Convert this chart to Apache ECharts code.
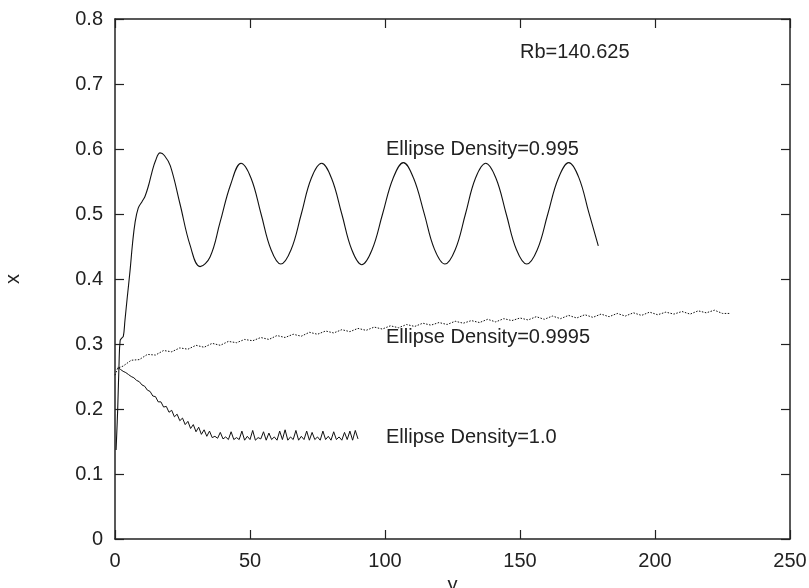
<!DOCTYPE html>
<html>
<head>
<meta charset="utf-8">
<script src="https://cdn.jsdelivr.net/npm/echarts@6/dist/echarts.min.js"></script>
<style>
html,body{margin:0;padding:0;background:#fff;}
#chart{width:809px;height:588px;}
</style>
</head>
<body>
<div id="chart"></div>
<script>
// Ellipse Density = 0.995 (solid)
const density0995 = [
  [0.4,0.137],[1.0,0.20],[1.5,0.27],[1.9,0.305],[2.5,0.309],[3.1,0.312],[3.7,0.337],
  [4.5,0.37],[5.6,0.414],[6.5,0.455],[7.4,0.486],[8.6,0.509],[10.0,0.519],[11.1,0.527],
  [12.5,0.545],[13.6,0.563],[15.0,0.582],[16.7,0.594],[18.3,0.590],[20.5,0.574],
  [24.1,0.515],[27.8,0.452],[31.5,0.419],[35.2,0.434],[38.9,0.487],[42.8,0.545],
  [46.7,0.578],[50.4,0.555],[54.1,0.500],[57.8,0.445],[61.4,0.423],[65.2,0.445],
  [69.0,0.500],[72.7,0.555],[76.5,0.578],[80.2,0.555],[84.0,0.500],[87.7,0.445],
  [91.4,0.422],[95.2,0.445],[99.1,0.500],[103.0,0.555],[106.8,0.579],[110.6,0.555],
  [114.5,0.501],[118.3,0.446],[122.2,0.423],[126.0,0.445],[129.8,0.500],[133.5,0.555],
  [137.3,0.578],[141.1,0.555],[144.9,0.500],[148.7,0.445],[152.5,0.423],[156.4,0.445],
  [160.3,0.500],[164.2,0.555],[168.1,0.579],[171.8,0.556],[175.5,0.502],[179.0,0.451]
];
// Ellipse Density = 0.9995 (dotted)
const density09995 = [
  [0,0.252],[1,0.263],[3,0.266],[6,0.275],[9,0.276],[12,0.284],[15,0.283],[18,0.290],[21,0.288],
  [24,0.294],[27,0.292],[30,0.298],[33,0.295],[36,0.301],[39,0.298],[42,0.304],[45,0.302],
  [48,0.307],[51,0.305],[54,0.310],[57,0.307],[60,0.313],[63,0.310],[66,0.315],[69,0.312],
  [72,0.318],[75,0.315],[78,0.320],[81,0.317],[84,0.322],[87,0.319],[90,0.324],[93,0.321],
  [96,0.326],[99,0.323],[102,0.328],[105,0.325],[108,0.330],[111,0.327],[114,0.332],[117,0.329],
  [120,0.333],[123,0.330],[126,0.335],[129,0.332],[132,0.336],[135,0.333],[138,0.338],[141,0.334],
  [144,0.339],[147,0.336],[150,0.340],[153,0.337],[156,0.342],[159,0.338],[162,0.343],[165,0.339],
  [168,0.344],[171,0.340],[174,0.345],[177,0.341],[180,0.346],[183,0.342],[186,0.347],[189,0.343],
  [192,0.348],[195,0.344],[198,0.349],[201,0.345],[204,0.349],[207,0.346],[210,0.350],[213,0.346],
  [216,0.351],[219,0.348],[222,0.352],[225,0.347],[228,0.347]
];
// Ellipse Density = 1.0 (noisy)
const density10 = [
  [1,0.264],[2,0.261],[3,0.258],[4,0.256],[5,0.253],[6,0.250],[7,0.248],[8,0.244],[9,0.242],
  [10,0.237],[11,0.235],[12,0.229],[13,0.227],[14,0.220],[15,0.219],[16,0.211],[17,0.211],
  [18,0.203],[19,0.204],[20,0.195],[21,0.198],[22,0.188],[23,0.192],[24,0.182],[25,0.186],
  [26,0.176],[27,0.181],[28,0.170],[29,0.176],[30,0.165],[31,0.172],[32,0.161],[33,0.168],
  [34,0.158],[35,0.166],[36,0.156],[37,0.158],[38,0.155],[39,0.164],[40,0.154],[41,0.157],
  [42,0.153],[43,0.165],[44,0.153],[45,0.156],[46,0.153],[47,0.166],[48,0.152],[49,0.158],
  [50,0.153],[51,0.167],[52,0.152],[53,0.156],[54,0.154],[55,0.165],[56,0.152],[57,0.163],
  [58,0.153],[59,0.157],[60,0.152],[61,0.166],[62,0.153],[63,0.168],[64,0.152],[65,0.157],
  [66,0.153],[67,0.167],[68,0.152],[69,0.158],[70,0.153],[71,0.166],[72,0.152],[73,0.164],
  [74,0.153],[75,0.157],[76,0.152],[77,0.166],[78,0.153],[79,0.158],[80,0.152],[81,0.165],
  [82,0.153],[83,0.157],[84,0.152],[85,0.164],[86,0.153],[87,0.166],[88,0.152],[89,0.167],[90,0.154]
];
const xTicks = {min: 0, max: 250, interval: 50};
const yTicks = {min: 0, max: 0.8, interval: 0.1};
const annotations = [
  {text: 'Rb=140.625', x: 520, y: 52},
  {text: 'Ellipse Density=0.995', x: 386, y: 149},
  {text: 'Ellipse Density=0.9995', x: 386, y: 337},
  {text: 'Ellipse Density=1.0', x: 386, y: 437}
];

const FONT = 'Liberation Sans, Arial, Helvetica, sans-serif';
const AX = '#222';
const chart = echarts.init(document.getElementById('chart'), null, {renderer: 'canvas'});
function axisCommon(showLabel) {
  return {
    axisLine: {show: true, onZero: false, lineStyle: {color: AX, width: 1.5}},
    axisTick: {show: true, inside: true, length: 9, lineStyle: {color: AX, width: 1.2}},
    axisLabel: {show: showLabel, color: '#222', fontSize: 20, fontFamily: FONT, margin: 12},
    splitLine: {show: false}
  };
}
const option = {
  animation: false,
  backgroundColor: '#fff',
  grid: {left: 115, right: 19, top: 19, bottom: 49, containLabel: false, outerBoundsMode: 'none'},
  xAxis: [
    Object.assign({type: 'value', position: 'bottom', min: xTicks.min, max: xTicks.max, interval: xTicks.interval,
      name: 'y', nameLocation: 'middle', nameGap: 25,
      nameTextStyle: {color: '#222', fontSize: 20, fontFamily: FONT}}, axisCommon(true)),
    Object.assign({type: 'value', position: 'top', min: xTicks.min, max: xTicks.max, interval: xTicks.interval}, axisCommon(false))
  ],
  yAxis: [
    Object.assign({type: 'value', position: 'left', min: yTicks.min, max: yTicks.max, interval: yTicks.interval,
      name: 'x', nameLocation: 'middle', nameGap: 92,
      nameTextStyle: {color: '#222', fontSize: 20, fontFamily: FONT},
      }, axisCommon(true)),
    Object.assign({type: 'value', position: 'right', min: yTicks.min, max: yTicks.max, interval: yTicks.interval}, axisCommon(false))
  ],
  series: [
    {type: 'line', name: 'Ellipse Density=0.995', data: density0995, showSymbol: false, smooth: 0.4,
      lineStyle: {color: '#111', width: 1.1}},
    {type: 'line', name: 'Ellipse Density=0.9995', data: density09995, showSymbol: false, smooth: false,
      lineStyle: {color: '#111', width: 1, type: [1.5, 1.5]}},
    {type: 'line', name: 'Ellipse Density=1.0', data: density10, showSymbol: false, smooth: false,
      lineStyle: {color: '#111', width: 1}}
  ],
  graphic: annotations.map(a => ({
    type: 'text', x: a.x, y: a.y,
    style: {text: a.text, fill: '#222', font: '20px ' + FONT, verticalAlign: 'middle', align: 'left'}
  }))
};
chart.setOption(option);
</script>
</body>
</html>
